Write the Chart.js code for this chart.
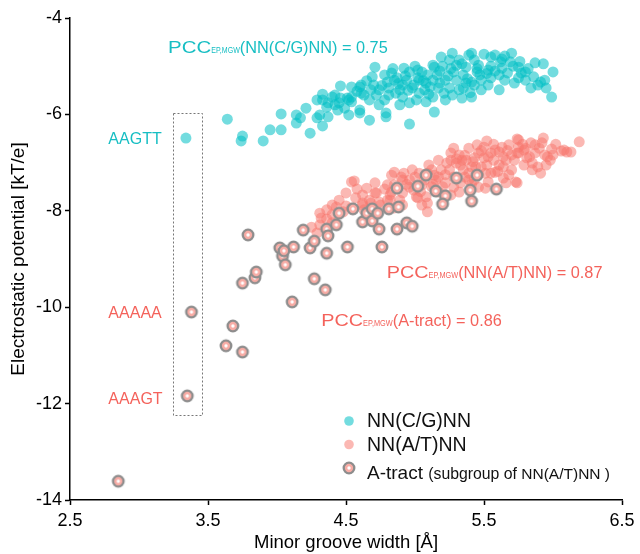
<!DOCTYPE html>
<html>
<head>
<meta charset="utf-8">
<title>Electrostatic potential vs minor groove width</title>
<script src="https://cdn.jsdelivr.net/npm/chart.js@4.4.1/dist/chart.umd.min.js"></script>
<style>
  body { margin: 0; background: #fff; }
  canvas { display: block; }
</style>
</head>
<body>
<canvas id="mgwChart" width="640" height="554"></canvas>
<script>
const xTicks = [2.5, 3.5, 4.5, 5.5, 6.5];
const yTicks = [-14, -12, -10, -8, -6, -4];

// NN(C/G)NN pentamers: [minor groove width, electrostatic potential]
const cgPoints = [
  [3.34,-6.49],[3.64,-6.10],[3.75,-6.45],[3.74,-6.55],[3.90,-6.55],[3.95,-6.32],[4.03,-6.32],[4.03,-5.99],
  [4.14,-6.01],[4.14,-6.18],[4.17,-6.07],[4.21,-5.87],[4.24,-6.39],[4.29,-6.07],[4.31,-6.01],[4.33,-6.24],
  [4.37,-6.05],[4.29,-5.70],[4.33,-5.58],[4.33,-5.70],[4.37,-5.76],[4.42,-5.60],[4.42,-5.80],[4.46,-5.41],
  [4.45,-5.76],[4.49,-5.87],[4.51,-5.66],[4.52,-6.01],[4.54,-5.74],[4.60,-5.43],[4.60,-5.97],
  [5.27,-4.73],[5.19,-4.81],[5.41,-4.73],[5.50,-4.75],[5.70,-4.73],[5.65,-4.79],[5.55,-4.81],[5.87,-4.93],
  [5.93,-4.95],[6.00,-5.12],[5.99,-5.64],[5.89,-5.39],[5.80,-5.12],[5.75,-5.24],[5.71,-5.00],[5.62,-4.91],
  [5.53,-5.08],[5.45,-5.12],[5.37,-5.02],[5.30,-4.98],[5.20,-5.00],[5.14,-5.02],[5.02,-5.08],[4.96,-5.12],
  [4.83,-5.14],[4.71,-5.02],[4.69,-5.22],[4.61,-5.39],[4.40,-5.64],[4.52,-5.70],[4.61,-5.56],[4.67,-5.70],
  [4.78,-5.70],[4.81,-5.45],[4.91,-5.39],[4.94,-5.29],[5.03,-5.29],[5.08,-5.35],[5.13,-5.29],[5.22,-5.29],
  [5.30,-5.29],[5.37,-5.35],[5.41,-5.33],[5.48,-5.29],[5.55,-5.24],[5.61,-5.18],[5.67,-5.14],[4.91,-5.64],
  [4.96,-5.76],[5.01,-5.70],[5.08,-5.74],[5.14,-5.95],[5.13,-5.64],[4.96,-6.20],[4.79,-5.97],[4.67,-6.12],
  [4.44,-5.91],[4.36,-5.85],[5.27,-5.60],[5.34,-5.66],[5.41,-5.64],[5.48,-5.49],[5.22,-5.70],[5.03,-5.56],
  [4.86,-5.56],[4.74,-5.49],[4.54,-5.43],[5.80,-5.29],[5.86,-5.22],[5.94,-5.29],[5.75,-5.02],[5.91,-5.33],
  [5.77,-5.14],[5.58,-4.77],[5.39,-4.77],[5.43,-4.87],[5.13,-4.98],[4.79,-6.05],[4.60,-5.91],[4.54,-5.64],
  [4.85,-5.29],[4.89,-5.49],[4.98,-5.45],[5.07,-5.49],[5.17,-5.45],[5.25,-5.45],[5.32,-5.49],[5.16,-5.18],
  [5.09,-5.18],[4.87,-5.24],[4.80,-5.33],[4.70,-5.39],[4.63,-5.60],[5.21,-5.56],[4.99,-5.39],[5.46,-4.98],
  [5.35,-5.18],[5.28,-5.12],[5.55,-5.00],[5.63,-5.04],[5.69,-4.91],[4.92,-5.04],[4.68,-5.49],[4.46,-5.66],
  [4.78,-5.18],[5.25,-4.87],[5.32,-4.87],[5.02,-5.24],[5.11,-5.43],[4.81,-5.60],[4.74,-5.80],[4.89,-5.80],
  [5.43,-5.39],[5.53,-5.39],[5.61,-5.49],[5.65,-5.29],
  [5.05,-5.12],[5.18,-5.10],[5.24,-5.20],[5.38,-5.26],[5.47,-5.18],[5.52,-5.15],[4.93,-5.20],[4.88,-5.36],
  [4.95,-5.50],[5.10,-5.58],[5.18,-5.35],[5.35,-5.45],[5.40,-5.55],[5.45,-5.05],[5.58,-5.10],[5.06,-5.30],
  [4.76,-5.40],[4.72,-5.60],[4.65,-5.30],[4.58,-5.52],[4.84,-5.05],[5.00,-5.00],[5.26,-5.05],[5.34,-4.95],
  [5.63,-4.85],[5.76,-4.90],[5.82,-5.05],[5.72,-5.35],[5.84,-5.45],[5.95,-5.45]
];

// NN(A/T)NN pentamers
const atPoints = [
  [6.19,-6.57],[6.10,-6.78],[6.06,-6.76],[5.99,-6.72],[6.00,-6.84],[5.94,-6.84],[5.93,-6.49],[5.92,-6.59],
  [5.87,-6.63],[5.84,-6.59],[5.80,-6.70],[5.74,-6.51],[5.75,-6.68],[5.74,-6.80],[5.81,-6.90],[5.87,-6.80],
  [5.79,-7.05],[5.85,-7.15],[5.91,-7.22],[5.66,-6.95],[5.63,-6.68],[5.68,-6.63],[5.58,-6.74],[5.55,-6.80],
  [5.52,-6.55],[5.50,-6.68],[5.46,-6.80],[5.39,-6.70],[5.43,-6.90],[5.37,-6.95],[5.32,-6.84],[5.26,-6.80],
  [5.30,-7.01],[5.35,-7.15],[5.44,-7.09],[5.52,-7.05],[5.58,-7.20],[5.64,-7.09],[5.53,-7.40],[5.66,-7.42],
  [5.73,-7.40],[5.51,-7.22],[5.39,-7.36],[5.25,-7.15],[5.19,-7.15],[5.17,-7.30],[5.10,-7.05],[5.03,-7.22],
  [4.98,-7.15],[4.92,-7.22],[4.85,-7.20],[4.91,-7.36],[4.96,-7.51],[5.01,-7.71],[5.09,-7.84],[5.26,-7.67],
  [5.28,-7.51],[5.15,-7.36],[5.51,-7.53],[5.33,-7.42],[5.22,-7.42],[5.05,-7.46],[4.83,-7.61],[4.82,-7.78],
  [5.75,-6.53],[5.26,-6.95],[5.09,-7.22],[4.90,-7.30],[4.80,-7.46],[4.71,-7.42],[4.65,-7.53],[4.72,-7.63],
  [4.82,-7.67],[4.91,-7.63],[5.02,-7.73],[5.08,-7.71],[4.54,-7.40],[4.50,-7.63],[4.57,-7.73],[4.67,-7.78],
  [4.80,-7.78],[4.75,-7.88],[4.45,-7.78],[4.40,-7.88],[4.36,-7.98],[4.31,-8.05],[4.32,-8.15],[4.54,-7.94],
  [4.62,-7.84],[4.85,-7.94],[4.91,-7.88],[5.05,-7.88],[5.09,-8.02],[5.64,-7.32],[5.74,-7.42],[5.46,-7.51],
  [5.75,-6.80],[5.83,-6.88],[5.89,-7.09],[5.85,-7.01],[6.08,-6.74],[6.13,-6.78],[5.96,-6.88],[5.64,-6.88],
  [5.53,-6.88],[5.55,-7.22],[5.48,-7.09],[5.41,-7.09],[5.34,-6.95],[4.56,-7.38],[4.83,-7.26],[4.85,-7.46],
  [4.62,-7.67],[4.71,-7.63],[4.74,-7.82],[4.68,-7.84],[4.50,-7.90],[4.43,-7.92],[4.36,-8.17],[4.31,-8.29],
  [4.25,-8.34],[4.40,-8.25],[4.29,-8.46],[5.17,-6.95],[5.28,-6.70],[5.45,-6.63],[5.57,-6.95],[5.70,-7.15],
  [5.39,-7.22],[5.28,-7.30],[5.14,-7.26],[5.07,-7.36],[4.96,-7.36],[4.99,-7.57],[5.32,-7.61],[5.17,-7.61],
  [5.43,-7.36],[5.61,-7.05],[5.50,-6.90],[5.33,-7.05],[5.23,-7.01],[5.79,-6.74],[5.70,-6.84],[5.95,-7.05],
  [4.89,-7.78],[4.63,-7.98],
  [5.36,-6.85],[5.42,-6.98],[5.48,-6.75],[5.57,-6.62],[5.61,-6.78],[5.67,-6.75],[5.72,-6.95],[5.78,-6.62],
  [5.90,-6.70],[6.02,-6.62],[5.98,-6.95],[5.46,-7.25],[5.36,-7.30],[5.22,-7.25],[5.12,-7.15],[5.00,-7.30],
  [4.94,-7.45],[5.12,-7.50],[5.20,-7.50],[5.41,-7.45],[5.60,-7.18],[5.68,-7.25],[5.30,-6.92],[5.13,-7.45],
  [4.78,-7.55],[4.58,-7.55],[4.62,-7.88],[4.48,-8.02],[4.40,-8.08],[5.04,-7.60]
];

// A-tract subgroup of NN(A/T)NN
const tractPoints = [
  [2.85,-13.61],[3.35,-11.84],[3.38,-10.10],[3.63,-10.80],[3.68,-10.39],[3.75,-10.93],[3.75,-9.50],[3.84,-9.39],
  [3.85,-9.27],[3.79,-8.50],[4.02,-8.77],[4.04,-8.94],[4.06,-9.12],[4.12,-8.75],[4.11,-9.89],[4.19,-8.40],
  [4.24,-8.77],[4.27,-8.63],[4.27,-9.41],[4.35,-9.64],[4.36,-8.38],[4.37,-8.52],[4.36,-8.88],[4.43,-8.29],
  [4.45,-8.05],[4.51,-8.75],[4.55,-7.96],[4.62,-8.23],[4.65,-8.05],[4.69,-7.96],[4.69,-8.21],[4.73,-8.05],
  [4.74,-8.38],[4.76,-8.75],[4.81,-7.96],[4.87,-7.53],[4.87,-8.38],[4.88,-7.92],[4.94,-8.25],[4.98,-8.32],
  [5.02,-7.49],[5.08,-7.26],[5.15,-7.59],[5.22,-7.69],[5.20,-7.86],[5.30,-7.32],[5.45,-7.26],[5.40,-7.57],
  [5.41,-7.80],[5.59,-7.55],[4.05,-8.83]
];

const FONT = "'Liberation Sans', Arial, sans-serif";
const CYAN = 'rgba(0, 191, 196, 0.55)';
const SALMON = 'rgba(248, 118, 109, 0.52)';
const CYAN_TEXT = '#17bec3';
const RED_TEXT = '#f4625b';

// text anchors (left edge, baseline) in data units
const notes = [
  { x: 3.211, y: -4.726, color: CYAN_TEXT, parts: [['PCC', 16.5, 1.24], ['EP,MGW', 9.8, 0.72], ['(NN(C/G)NN) = 0.75', 16.3, 1]] },
  { x: 4.795, y: -9.394, color: RED_TEXT, parts: [['PCC', 16.5, 1.2], ['EP,MGW', 9.8, 0.75], ['(NN(A/T)NN) = 0.87', 16.3, 1]] },
  { x: 4.321, y: -10.39, color: RED_TEXT, parts: [['PCC', 16.5, 1.2], ['EP,MGW', 9.8, 0.75], ['(A-tract) = 0.86', 16.3, 1]] },
  { x: 2.778, y: -6.614, color: CYAN_TEXT, parts: [['AAGTT', 16, 1]] },
  { x: 2.778, y: -10.218, color: RED_TEXT, parts: [['AAAAA', 16, 1]] },
  { x: 2.778, y: -12.015, color: RED_TEXT, parts: [['AAAGT', 16, 1]] }
];

// dotted box around the three highlighted pentamers
const boxX = [3.247, 3.457];
const boxY = [-5.97, -12.24];

const toXY = pts => pts.map(p => ({ x: p[0], y: p[1] }));

const makeTractMarker = () => {
  const c = document.createElement('canvas');
  c.width = 16; c.height = 16;
  const g = c.getContext('2d');
  g.beginPath(); g.arc(8, 8, 5.3, 0, Math.PI * 2);
  g.fillStyle = '#f8aca5'; g.fill();
  g.lineWidth = 2.3; g.strokeStyle = '#8d8d8d'; g.stroke();
  g.beginPath(); g.arc(8, 8, 1.7, 0, Math.PI * 2);
  g.fillStyle = '#ffffff'; g.fill();
  return c;
};
const tractMarker = makeTractMarker();

const drawParts = (ctx, x, baseline, parts, color) => {
  ctx.fillStyle = color;
  ctx.textAlign = 'left';
  ctx.textBaseline = 'alphabetic';
  parts.forEach(([text, size, sx]) => {
    ctx.font = size + 'px ' + FONT;
    const w = ctx.measureText(text).width * sx;
    ctx.save();
    ctx.translate(x, baseline);
    ctx.scale(sx, 1);
    ctx.fillText(text, 0, 0);
    ctx.restore();
    x += w;
  });
};

const boxPlugin = {
  id: 'selectionBox',
  beforeDatasetsDraw(chart) {
    const { ctx, scales: { x, y } } = chart;
    const x0 = x.getPixelForValue(boxX[0]), x1 = x.getPixelForValue(boxX[1]);
    const y0 = y.getPixelForValue(boxY[0]), y1 = y.getPixelForValue(boxY[1]);
    ctx.save();
    ctx.strokeStyle = '#777';
    ctx.lineWidth = 1;
    ctx.setLineDash([2, 2]);
    ctx.strokeRect(Math.round(x0) + 0.5, Math.round(y0) + 0.5, Math.round(x1 - x0), Math.round(y1 - y0));
    ctx.restore();
  }
};

const notesPlugin = {
  id: 'notes',
  afterDraw(chart) {
    const { ctx, scales: { x, y } } = chart;
    ctx.save();
    notes.forEach(n => drawParts(ctx, x.getPixelForValue(n.x), y.getPixelForValue(n.y), n.parts, n.color));

    // legend, bottom right inside the plot
    const lx = 349, tx = 367;
    ctx.fillStyle = CYAN;
    ctx.beginPath(); ctx.arc(lx, 421, 4.8, 0, Math.PI * 2); ctx.fill();
    ctx.fillStyle = SALMON;
    ctx.beginPath(); ctx.arc(lx, 444.5, 4.8, 0, Math.PI * 2); ctx.fill();
    ctx.drawImage(tractMarker, lx - 8, 468 - 8);
    drawParts(ctx, tx, 426.7, [['NN(C/G)NN', 19.5, 1]], '#111');
    drawParts(ctx, tx, 450.5, [['NN(A/T)NN', 19.5, 1]], '#111');
    drawParts(ctx, tx, 479, [['A-tract ', 19, 1], ['(subgroup of ', 15.8, 1], ['NN(A/T)NN', 15.5, 1], [' )', 15.5, 1]], '#111');
    ctx.restore();
  }
};

const axisBase = {
  type: 'linear',
  grid: { display: true, drawOnChartArea: false, drawTicks: true, tickLength: 5, tickWidth: 1.5, tickColor: '#000' },
  border: { display: true, color: '#000', width: 1.5 },
};

new Chart(document.getElementById('mgwChart'), {
  type: 'scatter',
  data: {
    datasets: [
      { label: 'A-tract', data: toXY(tractPoints), pointStyle: tractMarker, pointRadius: 6, order: 1 },
      { label: 'NN(A/T)NN', data: toXY(atPoints), backgroundColor: SALMON, borderWidth: 0, pointRadius: 5.5, order: 2 },
      { label: 'NN(C/G)NN', data: toXY(cgPoints), backgroundColor: CYAN, borderWidth: 0, pointRadius: 5.5, order: 3 }
    ]
  },
  options: {
    responsive: false,
    animation: false,
    events: [],
    layout: { padding: { left: 0, right: 18, top: 18, bottom: 0 } },
    plugins: { legend: { display: false }, tooltip: { enabled: false } },
    scales: {
      x: {
        ...axisBase,
        min: 2.5, max: 6.5,
        afterBuildTicks: s => { s.ticks = xTicks.map(v => ({ value: v })); },
        afterFit: s => { s.height = 54; },
        ticks: { color: '#000', font: { family: FONT, size: 18 }, padding: 5, maxRotation: 0 },
        title: { display: true, text: 'Minor groove width [Å]', color: '#000', font: { family: FONT, size: 18.5 }, padding: { top: 0, bottom: 0 } }
      },
      y: {
        ...axisBase,
        min: -14, max: -4,
        afterBuildTicks: s => { s.ticks = yTicks.map(v => ({ value: v })); },
        afterFit: s => { s.width = 70; },
        ticks: { color: '#000', font: { family: FONT, size: 18 }, padding: 3 },
        title: { display: true, text: 'Electrostatic potential [kT/e]', color: '#000', font: { family: FONT, size: 19 }, padding: { top: 7.5, bottom: 0 } }
      }
    }
  },
  plugins: [boxPlugin, notesPlugin]
});
</script>
</body>
</html>
